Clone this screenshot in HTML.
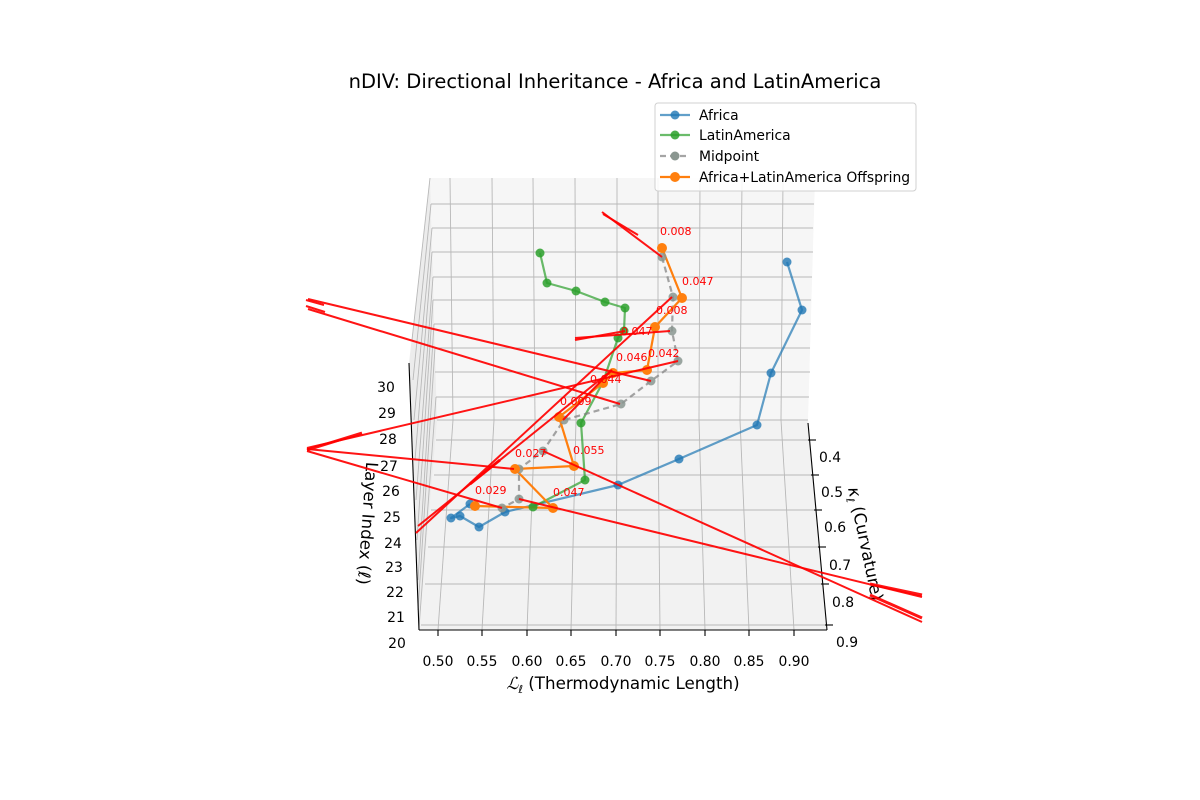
<!DOCTYPE html>
<html><head><meta charset="utf-8"><style>
html,body{margin:0;padding:0;background:#fff;}
svg{display:block;font-family:"DejaVu Sans","Liberation Sans",sans-serif;}
</style></head><body>
<svg width="1200" height="800" viewBox="0 0 1200 800" xmlns="http://www.w3.org/2000/svg">
<rect width="1200" height="800" fill="#fff"/>
<text x="615" y="88" font-size="19.5" text-anchor="middle" fill="#000">nDIV: Directional Inheritance - Africa and LatinAmerica</text>

<polygon points="430,178 815,178 808,420 437,420" fill="#f6f6f6"/>
<polygon points="430,178 437,420 437,630 419,630 409,363" fill="#ececec"/>
<polygon points="437,420 808,420 827,630 419,630" fill="#f2f2f2"/>

<g stroke="#b8b8b8" stroke-width="0.9" fill="none">
  <line x1="431" y1="204" x2="814" y2="204"/><line x1="432" y1="228" x2="813" y2="228"/>
  <line x1="432" y1="252" x2="813" y2="252"/><line x1="433" y1="277" x2="812" y2="277"/>
  <line x1="433" y1="300" x2="811" y2="300"/><line x1="434" y1="324" x2="811" y2="324"/>
  <line x1="435" y1="348" x2="810" y2="348"/><line x1="435" y1="372" x2="810" y2="372"/>
  <line x1="436" y1="397" x2="809" y2="397"/><line x1="437" y1="420" x2="808" y2="420"/>
  <line x1="450" y1="178" x2="453" y2="420"/><line x1="492" y1="178" x2="494" y2="420"/>
  <line x1="533" y1="178" x2="535" y2="420"/><line x1="575" y1="178" x2="576" y2="420"/>
  <line x1="617" y1="178" x2="617" y2="420"/><line x1="658" y1="178" x2="658" y2="420"/>
  <line x1="700" y1="178" x2="699" y2="420"/><line x1="742" y1="178" x2="740" y2="420"/>
  <line x1="783" y1="178" x2="781" y2="420"/>
  <line x1="453" y1="420" x2="438" y2="630"/><line x1="494" y1="420" x2="482" y2="630"/>
  <line x1="535" y1="420" x2="527" y2="630"/><line x1="576" y1="420" x2="571" y2="630"/>
  <line x1="617" y1="420" x2="616" y2="630"/><line x1="658" y1="420" x2="660" y2="630"/>
  <line x1="699" y1="420" x2="705" y2="630"/><line x1="740" y1="420" x2="749" y2="630"/>
  <line x1="781" y1="420" x2="794" y2="630"/>
  <line x1="436" y1="440" x2="809" y2="440"/><line x1="434" y1="475" x2="812" y2="475"/>
  <line x1="431" y1="510" x2="815" y2="510"/><line x1="428" y1="547" x2="819" y2="547"/>
  <line x1="425" y1="584" x2="822" y2="584"/><line x1="421" y1="625" x2="826" y2="625"/>
  <line x1="430" y1="178" x2="412" y2="340"/><line x1="431" y1="204" x2="413" y2="380"/>
  <line x1="432" y1="228" x2="414" y2="420"/><line x1="432" y1="252" x2="415" y2="460"/>
  <line x1="433" y1="277" x2="416" y2="500"/><line x1="433" y1="300" x2="417" y2="540"/>
  <line x1="434" y1="324" x2="418" y2="580"/><line x1="435" y1="348" x2="418" y2="610"/>
  <line x1="436" y1="397" x2="419" y2="628"/>
</g>

<g stroke="#000" stroke-width="1.1" fill="none">
  <line x1="409" y1="363" x2="419" y2="630"/>
  <line x1="419" y1="630" x2="827" y2="630"/>
  <line x1="808" y1="423" x2="827" y2="630"/>
  <line x1="438" y1="630" x2="438" y2="636"/><line x1="482" y1="630" x2="482" y2="636"/>
  <line x1="527" y1="630" x2="527" y2="636"/><line x1="571" y1="630" x2="571" y2="636"/>
  <line x1="616" y1="630" x2="616" y2="636"/><line x1="660" y1="630" x2="660" y2="636"/>
  <line x1="705" y1="630" x2="705" y2="636"/><line x1="749" y1="630" x2="749" y2="636"/>
  <line x1="794" y1="630" x2="794" y2="636"/>
  <line x1="808" y1="440" x2="816" y2="440"/><line x1="811" y1="475" x2="819" y2="475"/>
  <line x1="814" y1="510" x2="822" y2="510"/><line x1="818" y1="547" x2="826" y2="547"/>
  <line x1="821" y1="584" x2="829" y2="584"/><line x1="825" y1="625" x2="833" y2="625"/>
</g>

<g font-size="13.9" fill="#000" text-anchor="middle">
  <text x="438" y="666">0.50</text><text x="482" y="666">0.55</text><text x="527" y="666">0.60</text>
  <text x="571" y="666">0.65</text><text x="616" y="666">0.70</text><text x="660" y="666">0.75</text>
  <text x="705" y="666">0.80</text><text x="749" y="666">0.85</text><text x="794" y="666">0.90</text>
  <text x="830" y="462">0.4</text><text x="832" y="497">0.5</text><text x="835" y="532">0.6</text>
  <text x="840" y="570">0.7</text><text x="843" y="607">0.8</text><text x="847" y="647">0.9</text>
  <text x="386" y="392">30</text><text x="387" y="418">29</text><text x="388" y="444">28</text>
  <text x="389" y="471">27</text><text x="391" y="496">26</text><text x="392" y="522">25</text>
  <text x="393" y="548">24</text><text x="394" y="572">23</text><text x="395" y="597">22</text>
  <text x="396" y="622">21</text><text x="397" y="648">20</text>
</g>
<text x="623" y="689" font-size="16.7" text-anchor="middle"><tspan font-family="Liberation Serif" font-style="italic">ℒ</tspan><tspan font-size="11" dy="4" font-style="italic">ℓ</tspan><tspan dy="-4"> (Thermodynamic Length)</tspan></text>
<text transform="translate(362,523) rotate(94)" font-size="16.7" text-anchor="middle">Layer Index (<tspan font-style="italic">ℓ</tspan>)</text>
<text transform="translate(860,545) rotate(78)" font-size="16.7" text-anchor="middle"><tspan font-style="italic">κ</tspan><tspan font-size="11" dy="4" font-style="italic">ℓ</tspan><tspan dy="-4"> (Curvature)</tspan></text>

<g stroke-width="2.2" fill="none" stroke-linejoin="round">
  <polyline stroke="#1f77b4" stroke-opacity="0.7" points="787,262 802,310 771,373 757,425 679,459 618,485 505,512 479,527 460,516 451,518 470,504"/>
  <polyline stroke="#2ca02c" stroke-opacity="0.7" points="540,253 547,283 576,291 605,302 625,308 624,331 618,338 603,382 581,423 585,480 533,507"/>
  <polyline stroke="#7f7f7f" stroke-opacity="0.7" stroke-dasharray="6,4" points="662,257 673,297 672,331 678,361 651,381 621,404 564,420 543,451 519,469 519,499 502,508"/>
  <polyline stroke="#ff7f0e" points="662,248 682,298 655,327 647,370 613,373 603,383 559,417 574,466 515,469 553,508 475,506"/>
</g>
<g fill="#1f77b4" fill-opacity="0.8">
  <circle cx="787" cy="262" r="4.5"/><circle cx="802" cy="310" r="4.5"/><circle cx="771" cy="373" r="4.5"/><circle cx="757" cy="425" r="4.5"/><circle cx="679" cy="459" r="4.5"/><circle cx="618" cy="485" r="4.5"/><circle cx="505" cy="512" r="4.5"/><circle cx="479" cy="527" r="4.5"/><circle cx="460" cy="516" r="4.5"/><circle cx="451" cy="518" r="4.5"/><circle cx="470" cy="504" r="4.5"/>
</g>
<g fill="#2ca02c" fill-opacity="0.85">
  <circle cx="540" cy="253" r="4.5"/><circle cx="547" cy="283" r="4.5"/><circle cx="576" cy="291" r="4.5"/><circle cx="605" cy="302" r="4.5"/><circle cx="625" cy="308" r="4.5"/><circle cx="624" cy="331" r="4.5"/><circle cx="618" cy="338" r="4.5"/><circle cx="603" cy="382" r="4.5"/><circle cx="581" cy="423" r="4.5"/><circle cx="585" cy="480" r="4.5"/><circle cx="533" cy="507" r="4.5"/>
</g>
<g fill="#8a9690" fill-opacity="0.85">
  <circle cx="662" cy="257" r="4.5"/><circle cx="673" cy="297" r="4.5"/><circle cx="672" cy="331" r="4.5"/><circle cx="678" cy="361" r="4.5"/><circle cx="651" cy="381" r="4.5"/><circle cx="621" cy="404" r="4.5"/><circle cx="564" cy="420" r="4.5"/><circle cx="543" cy="451" r="4.5"/><circle cx="519" cy="469" r="4.5"/><circle cx="519" cy="499" r="4.5"/><circle cx="502" cy="508" r="4.5"/>
</g>
<g fill="#ff7f0e">
  <circle cx="662" cy="248" r="5"/><circle cx="682" cy="298" r="5"/><circle cx="655" cy="327" r="5"/><circle cx="647" cy="370" r="5"/><circle cx="613" cy="373" r="5"/><circle cx="603" cy="383" r="5"/><circle cx="559" cy="417" r="5"/><circle cx="574" cy="466" r="5"/><circle cx="515" cy="469" r="5"/><circle cx="553" cy="508" r="5"/><circle cx="475" cy="506" r="5"/>
</g>

<g stroke="#ff0000" stroke-width="2" fill="none" stroke-opacity="0.92">
  <line x1="602" y1="212" x2="662" y2="257"/><line x1="603" y1="214" x2="638" y2="235"/>
  <line x1="308" y1="299" x2="651" y2="381"/><line x1="306" y1="300" x2="324" y2="305"/>
  <line x1="308" y1="309" x2="620" y2="404"/><line x1="306" y1="306" x2="325" y2="312"/>
  <line x1="307" y1="448" x2="678" y2="361"/><line x1="307" y1="450" x2="362" y2="433" stroke-width="3"/>
  <line x1="575" y1="338" x2="670" y2="331"/><line x1="575" y1="340" x2="625" y2="331"/>
  <line x1="307" y1="449" x2="514" y2="469"/>
  <line x1="307" y1="451" x2="502" y2="508"/>
  <line x1="543" y1="451" x2="922" y2="622"/><line x1="870" y1="595" x2="922" y2="618" stroke-width="3"/>
  <line x1="519" y1="499" x2="922" y2="597"/><line x1="870" y1="584" x2="922" y2="595" stroke-width="3"/>
  <line x1="416" y1="533" x2="672" y2="297"/>
  <line x1="418" y1="526" x2="612" y2="370"/><line x1="470" y1="484" x2="500" y2="460" stroke-width="3"/>
  <line x1="563" y1="420" x2="612" y2="370"/>
</g>
<g font-size="11" fill="#ff0000">
  <text x="660" y="235">0.008</text><text x="682" y="285">0.047</text><text x="656" y="314">0.008</text>
  <text x="616" y="361">0.046</text><text x="648" y="357">0.042</text><text x="590" y="383">0.044</text>
  <text x="560" y="405">0.009</text><text x="573" y="454">0.055</text><text x="515" y="457">0.027</text>
  <text x="475" y="494">0.029</text><text x="553" y="496">0.047</text><text x="621" y="335">0.047</text>
</g>

<rect x="655" y="103" width="261" height="88" rx="3" fill="#fff" fill-opacity="0.85" stroke="#d0d0d0"/>
<g stroke-width="2.2">
  <line x1="660" y1="115" x2="690" y2="115" stroke="#1f77b4" stroke-opacity="0.7"/><circle cx="675" cy="115" r="4.5" fill="#1f77b4" fill-opacity="0.8"/>
  <line x1="660" y1="135" x2="690" y2="135" stroke="#2ca02c" stroke-opacity="0.7"/><circle cx="675" cy="135" r="4.5" fill="#2ca02c" fill-opacity="0.85"/>
  <line x1="660" y1="156" x2="690" y2="156" stroke="#7f7f7f" stroke-opacity="0.7" stroke-dasharray="6,4"/><circle cx="675" cy="156" r="4.5" fill="#8a9690"/>
  <line x1="660" y1="177" x2="690" y2="177" stroke="#ff7f0e"/><circle cx="675" cy="177" r="5" fill="#ff7f0e"/>
</g>
<g font-size="13.9" fill="#000">
  <text x="699" y="120">Africa</text><text x="699" y="140">LatinAmerica</text>
  <text x="699" y="161">Midpoint</text><text x="699" y="182">Africa+LatinAmerica Offspring</text>
</g>
</svg>
</body></html>
